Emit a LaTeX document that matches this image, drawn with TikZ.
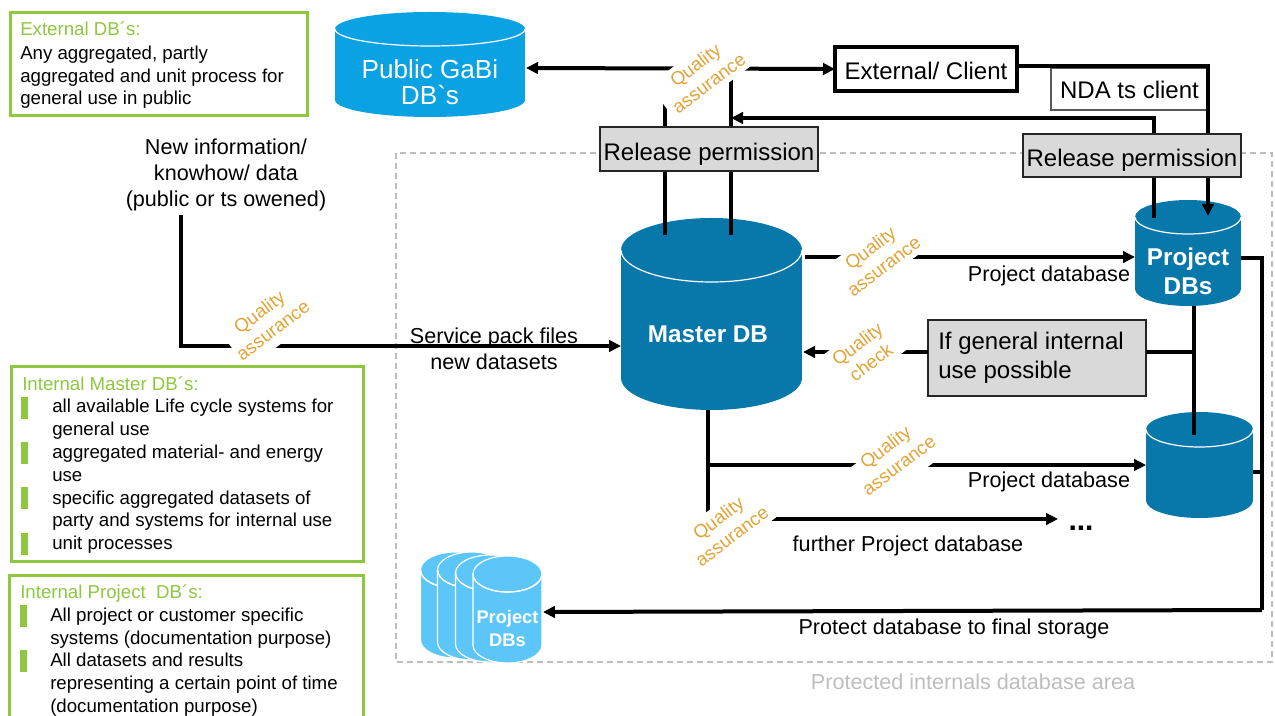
\documentclass[tikz,border=0pt]{standalone}
\usepackage{fontspec}
\setmainfont{Liberation Sans}
\newfontfamily\rawsans{Liberation Sans}
\usetikzlibrary{arrows.meta}
\newdimen\pxu \pxu=0.75pt
\definecolor{greenc}{HTML}{8FC740}
\definecolor{masterc}{HTML}{0878AB}
\definecolor{gabic}{HTML}{0AA2E2}
\definecolor{lightc}{HTML}{5CC6F8}
\definecolor{qac}{HTML}{E2A437}
\definecolor{greyfill}{HTML}{D9D9D9}
\definecolor{dashc}{HTML}{BDBDBD}
\newcommand{\lowt}[2]{\raisebox{-#1}[\height][\depth]{#2}}
\newcommand{\dbcyl}[7]{% name, cx, top, bottom, rx, ry, colour
  \fill[#7] ({#2},{#4-#6}) ellipse ({#5} and {#6});
  \fill[#7] ({#2-#5},{#3+#6}) rectangle ({#2+#5},{#4-#6});
  \fill[#7] ({#2},{#3+#6}) ellipse ({#5} and {#6});
  \draw[white,line width=1.2\pxu] ({#2-#5},{#3+#6}) arc[start angle=180,end angle=0,x radius={#5},y radius={#6}];
  \node[inner sep=0,outer sep=0,minimum width={2*#5*\pxu},minimum height={(#4-#3)*\pxu}] (#1) at ({#2},{(#3+#4)/2}) {};
}
\newcommand{\dbcylw}[7]{% as above, with a white outline
  \dbcyl{#1}{#2}{#3}{#4}{#5}{#6}{#7}
  \draw[white,line width=1.2\pxu] ({#2},{#3+#6}) ellipse ({#5} and {#6});
  \draw[white,line width=1.2\pxu] ({#2-#5},{#3+#6}) -- ({#2-#5},{#4-#6}) arc[start angle=180,end angle=0,x radius={#5},y radius={#6}] -- ({#2+#5},{#3+#6});
}
\tikzset{
  x=0.75pt,y=-0.75pt,
  bigt/.style={font=\fontsize{18}{20}\selectfont},
  midt/.style={font=\fontsize{16.2}{19.5}\selectfont},
  smallt/.style={font=\fontsize{14}{17.13}\selectfont},
  conn/.style={line width=4\pxu,draw=black},
  arr/.style={conn,-{Triangle[length=9pt,width=8.6pt]}},
  bothcap/.style={conn,{Triangle[length=9pt,width=8.6pt]}-{Triangle[length=9pt,width=8.6pt]}},
  greybox/.style={draw=black!85,line width=1.3\pxu,fill=greyfill,inner sep=0,outer sep=0,bigt},
  greenbox/.style={draw=greenc,line width=3\pxu,inner sep=0,outer sep=0,fill=white},
  greenbar/.style={fill=greenc,inner sep=0,minimum width=7\pxu,minimum height=22\pxu},
  blocktext/.style={smallt,align=left,anchor=north west,inner sep=0,text depth=0pt},
  qamask/.style={fill=white,inner sep=0,rotate=37,minimum width=98\pxu,minimum height=46\pxu},
  qa/.style={qamask,font=\fontsize{14}{17}\selectfont,text=qac,align=center},
  lbl/.style={midt,align=center,inner sep=0},
  wb/.style={text=white,font=\fontsize{18.2}{22}\selectfont\bfseries,align=center,inner sep=0},
}
\begin{document}
\begin{tikzpicture}
\useasboundingbox (0,0) rectangle (1275,716);
% protected area
\draw[dashc,line width=1.3\pxu,dash pattern=on 4.5pt off 3pt] (396,153) rectangle (1272,662);
\node[midt,text=dashc] (protected) at (973,682) {Protected internals database area};

% cylinders
\dbcyl{gabi}{430}{12}{117}{95}{17}{gabic}
\dbcyl{master}{711.5}{218}{410}{90.5}{32}{masterc}
\dbcyl{proj}{1188}{200}{306}{53}{17}{masterc}
\dbcyl{proj2}{1199.5}{412}{518}{53.5}{17.5}{masterc}
\dbcylw{st1}{455}{552}{658}{34.5}{18}{lightc}
\dbcylw{st2}{472}{552}{660}{34.5}{18}{lightc}
\dbcylw{st3}{490}{555}{662}{34.5}{18}{lightc}
\dbcylw{st4}{507.5}{556}{663}{34.5}{18}{lightc}
\node[wb,font=\fontsize{13.7}{17.25}\selectfont\bfseries] (st4t) at (507.5,628) {Project\\DBs};
\node[text=white,font=\rawsans\fontsize{19.6}{20}\selectfont,align=center,inner sep=0] (gabit) at (430,82) {Public GaBi\\DB`s};
\node[wb] (mastert) at (708,334) {Master DB};
\node[wb] (projt) at (1188,271) {Project\\DBs};

% named boxes
\node[draw=black,line width=3.5\pxu,inner sep=0,outer sep=0,fill=white,bigt,minimum width=182\pxu,minimum height=44\pxu] (client) at (926,69) {\lowt{1.5pt}{External/ Client}};
\node[draw=black!65,line width=1.2\pxu,inner sep=0,outer sep=0,fill=white,bigt,minimum width=157\pxu,minimum height=42\pxu] (nda) at (1129.5,89) {\lowt{0.75pt}{NDA ts client}};
\coordinate (gabiE) at (526,68);
\coordinate (m1) at (665,235);
\coordinate (m2) at (731,235);
\coordinate (m1t) at (665,100);
\coordinate (m2t) at (731,70);
\coordinate (mj) at (731,118);
\coordinate (p1) at (1154,218);
\coordinate (p1t) at (1154,118);
\coordinate (p2) at (1208,216);
\coordinate (pt) at (1208,66);
\coordinate (clientE) at (1017,66);
\coordinate (newtop) at (181,215);
\coordinate (newc) at (181,346);
\coordinate (mW) at (621,346);
\coordinate (mE) at (805,257);
\coordinate (pW) at (1135,257);
\coordinate (pE) at (1241,258);
\coordinate (rg) at (1262,258);
\coordinate (rb) at (1262,610);
\coordinate (stE) at (543,612);
\coordinate (p2E) at (1253,472);
\coordinate (rm) at (1262,472);
\coordinate (vb) at (1194,306);
\coordinate (ve) at (1194,435);
\coordinate (vj) at (1194,352);
\coordinate (ckE) at (803,352);
\coordinate (mb) at (708,410);
\coordinate (mj2) at (708,465);
\coordinate (p2W) at (1146,465);
\coordinate (mb2) at (708,519);
\coordinate (furth) at (1058,519);

% connectors
\draw[bothcap] (gabiE) -- (client.west);
\draw[conn] (m1) -- (m1t);
\draw[conn] (m2) -- (m2t);
\draw[arr] (p1) -- (p1t) -- (mj);
\draw[arr] (clientE) -- (pt) -- (p2);
\draw[arr] (newtop) -- (newc) -- (mW);
\draw[arr] (mE) -- (pW);
\draw[conn] (pE) -- (rg) -- (rb);
\draw[arr] (rb) -- (stE);
\draw[conn] (p2E) -- (rm);
\draw[conn] (vb) -- (ve);
\draw[conn] (mb) -- (mb2);
\draw[arr] (mj2) -- (p2W);
\draw[arr] (mb2) -- (furth);

% grey boxes
\node[greybox,minimum width=218\pxu,minimum height=44\pxu] (rp1) at (709,149) {\lowt{3.75pt}{Release permission}};
\node[greybox,minimum width=218\pxu,minimum height=43\pxu] (rp2) at (1132,155.5) {\lowt{3.75pt}{Release permission}};
\node[greybox,minimum width=218\pxu,minimum height=76\pxu] (ifgen) at (1037,358) {};
\node[inner sep=0,anchor=west,align=left,font=\fontsize{18}{21.8}\selectfont] (ifgent) at (938,358) {If general internal\\use possible};
\draw[conn] (ifgen.east |- vj) -- (vj);
\draw[arr] (ifgen.west |- ckE) -- (ckE);

% quality labels
\node[qamask] (qm2) at (273,321) {};
\node[qamask] (qm5) at (904,456) {};
\node[qa] (qa1) at (702,74) {Quality\\assurance};
\node[qa,fill=none] (qa2) at (266,321) {Quality\\assurance};
\node[qa] (qa3) at (877,257) {Quality\\assurance};
\node[qa] (qa4) at (864,353) {Quality\\check};
\node[qa,fill=none] (qa5) at (892,456) {Quality\\assurance};
\node[qa] (qa6) at (725,527) {Quality\\assurance};

% plain labels
\node[lbl] (newinfo) at (226,175) {New information/\\knowhow/ data\\(public or ts owened)};
\node[lbl] (svc) at (494,349) {Service pack files\\new datasets};
\node[lbl] (pd1) at (1049,276) {Project database};
\node[lbl] (pd2) at (1049,482) {Project database};
\node[lbl] (fpd) at (908,546) {further Project database};
\node[lbl] (store) at (954,629) {Protect database to final storage};
\node[inner sep=0,anchor=base,font=\fontsize{22.5}{24}\selectfont\bfseries] (dots) at (1081,530) {...};

% legend boxes
\node[greenbox,minimum width=297\pxu,minimum height=103\pxu] (extbox) at (158.5,64.5) {};
\node[blocktext,text=greenc] (exth) at (20,21.5) {External DB´s:};
\node[blocktext] (extt) at (20,45.5) {Any aggregated, partly\\aggregated and unit process for\\general use in public};

\node[greenbox,minimum width=352\pxu,minimum height=194\pxu] (mbox) at (187,464) {};
\node[blocktext,text=greenc] (mh) at (22,376) {Internal Master DB´s:};
\node[blocktext] (mt) at (52,399) {all available Life cycle systems for\\general use\\aggregated material- and energy\\use\\specific aggregated datasets of\\party and systems for internal use\\unit processes};
\foreach \y/\n in {408/a,453.5/b,498.5/c,544/d}{\node[greenbar] (mb\n) at (24.5,\y) {};}

\node[greenbox,minimum width=353.5\pxu,minimum height=160\pxu] (pbox) at (186.5,655) {};
\node[blocktext,text=greenc] (ph) at (20,584.5) {Internal Project~~DB´s:};
\node[blocktext] (pt1) at (50,607.5) {All project or customer specific\\systems (documentation purpose)\\All datasets and results\\representing a certain point of time\\(documentation purpose)};
\foreach \y/\n in {615.5/a,661/b}{\node[greenbar] (pb\n) at (23.5,\y) {};}
\end{tikzpicture}
\end{document}
